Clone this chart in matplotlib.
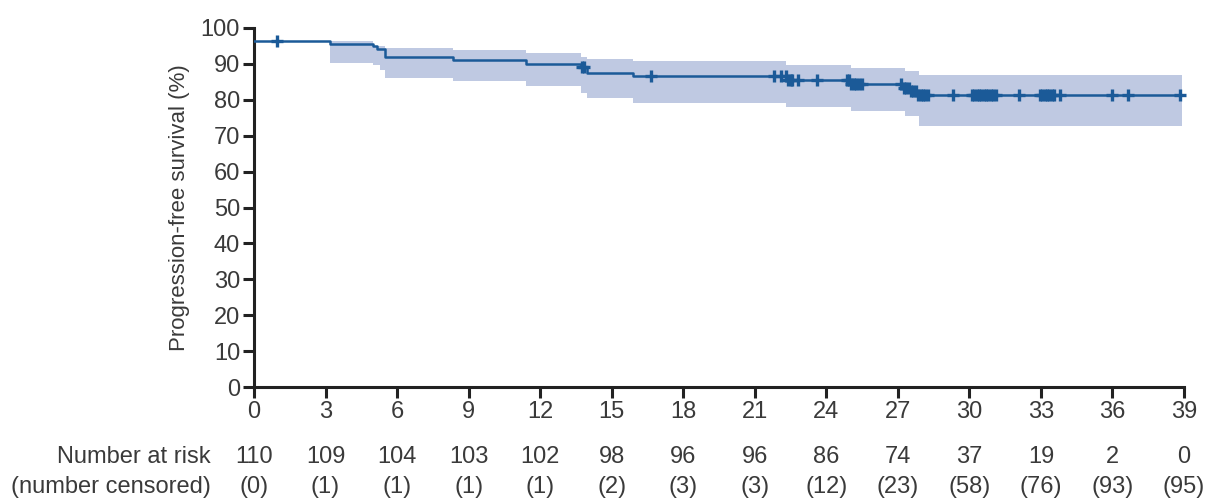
import numpy as np
import matplotlib
matplotlib.use("Agg")
import matplotlib.pyplot as plt
import matplotlib.transforms as mtransforms

# ---- data ----
step_times = [0, 3.2, 5.0, 5.15, 5.5, 8.35, 11.4, 13.7, 13.95, 15.9, 22.35, 25.0, 27.2, 27.5, 27.85]
step_surv = [96.5, 95.6, 95.0, 94.2, 91.9, 91.0, 90.1, 89.0, 87.4, 86.5, 85.6, 84.5, 83.4, 82.4, 81.4]
end_time = 39.0

ci_times = [3.2, 5.0, 5.3, 5.5, 8.35, 11.4, 13.7, 13.95, 15.9, 22.3, 25.05, 27.3, 27.9]
ci_upper = [96.4, 95.0, 95.0, 94.5, 93.9, 93.1, 92.0, 91.4, 90.8, 89.7, 88.8, 87.9, 87.0]
ci_lower = [90.2, 89.7, 88.3, 86.0, 85.2, 83.8, 82.0, 80.5, 79.1, 78.1, 76.8, 75.4, 72.8]
ci_end = 38.9

censor_times = [0.95, 13.75, 13.85, 16.65, 21.8, 22.1, 22.3, 22.4, 22.5, 22.55, 22.8, 23.6,
                24.85, 24.95, 25.05, 25.15, 25.25, 25.35, 25.5,
                27.15, 27.25, 27.35, 27.45, 27.55, 27.65, 27.75, 27.85, 27.95, 28.05, 28.15, 28.25,
                29.3, 30.1, 30.2, 30.3, 30.4, 30.5, 30.6, 30.7, 30.8, 30.9, 31.0, 31.1,
                32.1, 32.95, 33.05, 33.15, 33.25, 33.35, 33.45, 33.55, 33.8,
                36.0, 36.65, 38.85]

xticks = [0, 3, 6, 9, 12, 15, 18, 21, 24, 27, 30, 33, 36, 39]
at_risk = [110, 109, 104, 103, 102, 98, 96, 96, 86, 74, 37, 19, 2, 0]
censored = [0, 1, 1, 1, 1, 2, 3, 3, 12, 23, 58, 76, 93, 95]

# ---- style ----
fam = ['Liberation Sans Narrow', 'Liberation Sans', 'DejaVu Sans']
plt.rcParams['font.family'] = fam
line_col = '#1b5a98'
fill_col = '#bfc9e2'
txt_col = '#3a3a3a'
ax_col = '#222222'

fig = plt.figure(figsize=(12.10, 5.01), dpi=100)
ax = fig.add_axes([254/1210, 1-387/501, (1184-254)/1210, (387-28)/501])

# confidence band
cx = list(ci_times) + [ci_end]
cu = list(ci_upper) + [ci_upper[-1]]
cl = list(ci_lower) + [ci_lower[-1]]
ax.fill_between(cx, cl, cu, step='post', color=fill_col, linewidth=0, zorder=1)

# KM curve
sx = list(step_times) + [end_time]
sy = list(step_surv) + [step_surv[-1]]
ax.step(sx, sy, where='post', color=line_col, linewidth=1.8, zorder=3)

# censor marks
ct = np.array(censor_times)
idx = np.searchsorted(np.array(step_times), ct, side='right') - 1
cy = np.array(step_surv)[idx]
ax.plot(ct, cy, linestyle='none', marker='+', markersize=9, markeredgewidth=2.4,
        color=line_col, zorder=4, clip_on=False)

ax.set_xlim(0, 39)
ax.set_ylim(0, 100)
ax.set_xticks(xticks)
ax.set_xticklabels([str(v) for v in xticks])
ax.set_yticks(range(0, 101, 10))
for s in ['top', 'right']:
    ax.spines[s].set_visible(False)
for s in ['left', 'bottom']:
    ax.spines[s].set_linewidth(2.2)
    ax.spines[s].set_color(ax_col)
ax.tick_params(axis='both', direction='out', length=8, width=2.2, color=ax_col,
               labelsize=17, labelcolor=txt_col, pad=2)
ax.set_ylabel('Progression-free survival (%)', fontsize=16, color=txt_col, labelpad=8)

# number at risk table
trans = mtransforms.blended_transform_factory(ax.transData, fig.transFigure)
y1 = 1 - 457/501
y2 = 1 - 487/501
for x, n, c in zip(xticks, at_risk, censored):
    ax.text(x, y1, str(n), transform=trans, ha='center', va='center', fontsize=17, color=txt_col)
    ax.text(x, y2, f'({c})', transform=trans, ha='center', va='center', fontsize=17, color=txt_col)
fig.text(211/1210, y1, 'Number at risk', ha='right', va='center', fontsize=17, color=txt_col)
fig.text(211/1210, y2, '(number censored)', ha='right', va='center', fontsize=17, color=txt_col)

fig.savefig('out.png', dpi=100, facecolor='white')
